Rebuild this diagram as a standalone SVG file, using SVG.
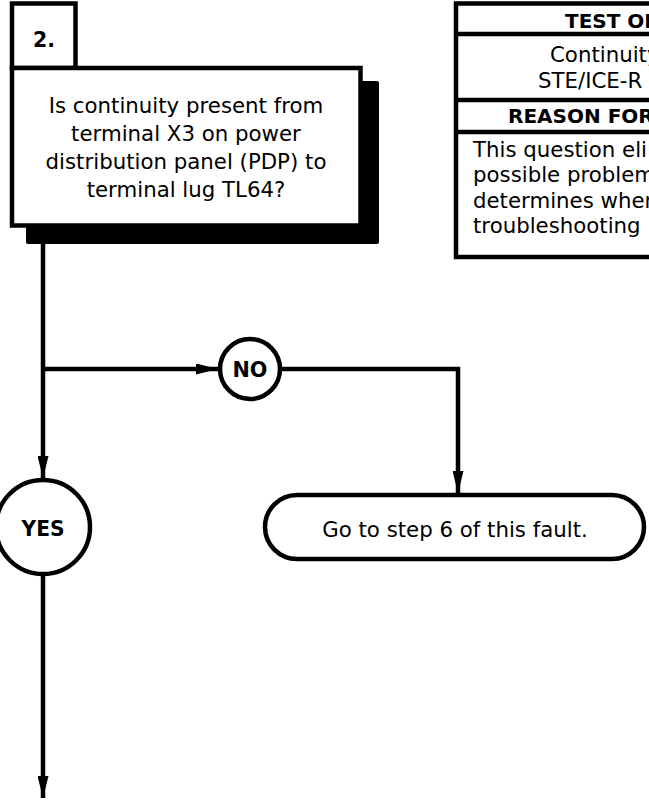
<svg xmlns="http://www.w3.org/2000/svg" width="649" height="801" viewBox="0 0 649 801">
<style>
.box{fill:#fff;stroke:#000;stroke-width:4.5}
.ln{fill:none;stroke:#000;stroke-width:4.5}
.t{font-family:"DejaVu Sans",Verdana,sans-serif;font-size:21.3px;fill:#000}
.tm{text-anchor:middle}
.b{font-family:"DejaVu Sans",Verdana,sans-serif;font-weight:bold;fill:#000}
</style>
<defs>
<marker id="ah" markerUnits="userSpaceOnUse" markerWidth="22" markerHeight="11" refX="22" refY="5.5" orient="auto">
<path d="M0,0 L22,5.5 L0,11 z" fill="#000"/>
</marker>
<clipPath id="clipT"><rect x="0" y="0" width="649" height="801"/></clipPath>
</defs>
<rect width="649" height="801" fill="#fff"/>

<g id="connectors">
<line class="ln" x1="43" y1="240" x2="43" y2="478" marker-end="url(#ah)"/>
<line class="ln" x1="43" y1="369" x2="218" y2="369" marker-end="url(#ah)"/>
<polyline class="ln" points="282,369 458,369 458,493" marker-end="url(#ah)"/>
<line class="ln" x1="43" y1="576" x2="43" y2="798" marker-end="url(#ah)"/>
</g>

<g id="step-number">
<rect class="box" x="12" y="3.5" width="63.5" height="64.5"/>
<text class="b" x="44" y="47" font-size="20.5" text-anchor="middle">2.</text>
</g>

<g id="question">
<rect x="26" y="81" width="353" height="163" rx="2" fill="#000"/>
<rect class="box" x="12" y="68" width="348.5" height="157.5"/>
<text class="t tm" x="186" y="113">Is continuity present from</text>
<text class="t tm" x="186" y="141">terminal X3 on power</text>
<text class="t tm" x="186" y="169">distribution panel (PDP) to</text>
<text class="t tm" x="186" y="197">terminal lug TL64?</text>
</g>

<g id="info-table" clip-path="url(#clipT)">
<rect class="box" x="456" y="3.5" width="260" height="253.5"/>
<line class="ln" x1="456" y1="34" x2="716" y2="34"/>
<line class="ln" x1="456" y1="100" x2="716" y2="100"/>
<line class="ln" x1="456" y1="132" x2="716" y2="132"/>
<text class="b" x="565" y="28" font-size="20">TEST OR</text>
<text class="t" x="550" y="62" font-size="21">Continuity</text>
<text class="t" x="538" y="88" font-size="21">STE/ICE-R</text>
<text class="b" x="508" y="123" font-size="20">REASON FOR</text>
<text class="t" x="473" y="157" font-size="21">This question eli</text>
<text class="t" x="473" y="182" font-size="21">possible problem</text>
<text class="t" x="473" y="208" font-size="21">determines wher</text>
<text class="t" x="473" y="233" font-size="21">troubleshooting</text>
</g>

<g id="no">
<circle class="box" cx="250" cy="369" r="30"/>
<text class="b" x="250" y="377" font-size="22" text-anchor="middle" textLength="35" lengthAdjust="spacingAndGlyphs">NO</text>
</g>

<g id="yes">
<circle class="box" cx="43" cy="527" r="47"/>
<text class="b" x="43" y="536" font-size="22" text-anchor="middle" textLength="43" lengthAdjust="spacingAndGlyphs">YES</text>
</g>

<g id="goto-step6">
<rect class="box" x="265" y="495" width="379" height="64" rx="32"/>
<text class="t tm" x="455" y="537">Go to step 6 of this fault.</text>
</g>
</svg>
